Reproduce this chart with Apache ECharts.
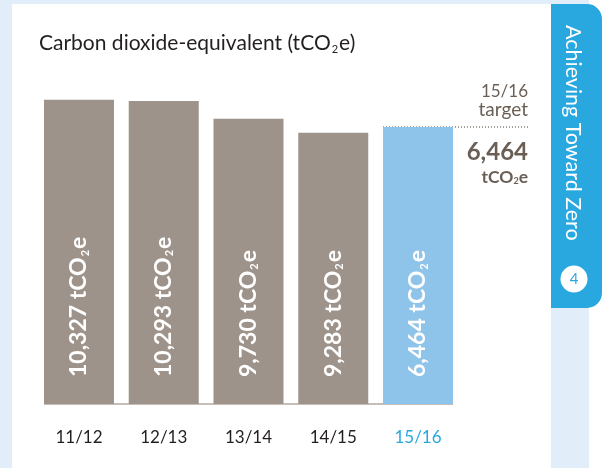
<!DOCTYPE html>
<html>
<head>
<meta charset="utf-8">
<script src="https://cdn.jsdelivr.net/npm/echarts@6/dist/echarts.min.js"></script>
<style>
  html, body { margin: 0; padding: 0; background: #ffffff; }
  #main { width: 603px; height: 468px; }
</style>
</head>
<body>
<div id="main"></div>
<script>
// 数据
var years = ['11/12', '12/13', '13/14', '14/15', '15/16'];
var emissions = [10327, 10293, 9730, 9283, 6464]; // 标签上的数值
// 柱子画出来的高度（原图并非按比例，目标柱顶对齐目标虚线）
var barHeights = [10327, 10293, 9730, 9283, 9465];
var targetYear = '15/16';
var targetValue = 6464;

var FONT = 'Lato';
var brown = '#6b5f55';
var tabBlue = '#29a8e0';

function fmt(n) {
    return n.toString().replace(/\B(?=(\d{3})+(?!\d))/g, ',');
}

var myChart = echarts.init(document.getElementById('main'));

var option = {
    animation: false,
    textStyle: { fontFamily: FONT },
    grid: {
        left: 36.6,
        right: 142.6,
        top: 47,
        bottom: 64
    },
    xAxis: {
        type: 'category',
        data: years,
        axisLine: { show: false },
        axisTick: { show: false },
        axisLabel: {
            margin: 25,
            fontSize: 17,
            fontFamily: FONT,
            color: function (v) {
                return v === targetYear ? tabBlue : '#231f20';
            }
        }
    },
    yAxis: {
        type: 'value',
        min: 700,
        max: 12000,
        show: false,
        splitLine: { show: false }
    },
    series: [{
        type: 'bar',
        barWidth: 70,
        silent: true,
        data: barHeights.map(function (h, i) {
            return {
                value: h,
                itemStyle: { color: years[i] === targetYear ? '#8ec4ea' : '#9d938a' }
            };
        }),
        label: {
            show: true,
            position: 'insideBottom',
            distance: 27,
            rotate: 90,
            align: 'left',
            verticalAlign: 'middle',
            offset: [0, 0],
            formatter: function (p) {
                return '{a|' + fmt(emissions[p.dataIndex]) + ' tCO}{s|2}{a|e}';
            },
            rich: {
                a: {
                    color: '#ffffff', fontSize: 23, fontWeight: 'bold',
                    fontFamily: FONT, lineHeight: 23, verticalAlign: 'top'
                },
                s: {
                    color: '#ffffff', fontSize: 11, fontWeight: 'bold',
                    fontFamily: FONT, lineHeight: 12, padding: [17, 1, 0, 1],
                    verticalAlign: 'bottom'
                }
            }
        }
    }]
};

myChart.setOption(option);

// 目标虚线的位置由坐标轴换算
var targetY = myChart.convertToPixel({ yAxisIndex: 0 }, barHeights[years.indexOf(targetYear)]);
var baseY = myChart.convertToPixel({ yAxisIndex: 0 }, 700);

myChart.setOption({
    graphic: [
        // 背景
        { type: 'rect', z: -10, silent: true, shape: { x: 0, y: 0, width: 603, height: 468 }, style: { fill: '#e1eef9' } },
        { type: 'rect', z: -9, silent: true, shape: { x: 12, y: 4, width: 539, height: 464 }, style: { fill: '#ffffff' } },
        { type: 'rect', z: -9, silent: true, shape: { x: 589, y: 0, width: 14, height: 468 }, style: { fill: '#ffffff' } },
        // 右侧标签页
        { type: 'rect', z: -8, silent: true, shape: { x: 551, y: 4, width: 51, height: 304, r: [0, 15, 15, 0] }, style: { fill: tabBlue } },
        {
            type: 'text', silent: true, x: 573, y: 25, rotation: -Math.PI / 2,
            style: { text: 'Achieving Toward Zero', fill: '#ffffff', fontSize: 21.5, fontFamily: FONT, align: 'left', verticalAlign: 'middle' }
        },
        { type: 'circle', silent: true, shape: { cx: 574, cy: 279, r: 13.5 }, style: { fill: '#ffffff' } },
        {
            type: 'text', silent: true, x: 574, y: 279,
            style: { text: '4', fill: tabBlue, fontSize: 15, fontFamily: FONT, align: 'center', verticalAlign: 'middle' }
        },
        // 标题
        {
            type: 'text', silent: true, x: 39, y: 44,
            style: {
                text: '{a|Carbon dioxide-equivalent (tCO}{s|2}{a|e)}',
                align: 'left', verticalAlign: 'middle',
                rich: {
                    a: { fontSize: 21, fill: '#231f20', fontFamily: FONT, lineHeight: 22, verticalAlign: 'top' },
                    s: { fontSize: 11, fill: '#231f20', fontFamily: FONT, lineHeight: 11, padding: [18, 1, 0, 1], verticalAlign: 'bottom' }
                }
            }
        },
        // 横轴线
        {
            type: 'line', silent: true,
            shape: { x1: 44, y1: baseY, x2: 453, y2: baseY },
            style: { stroke: '#b3aaa2', lineWidth: 1.5 }
        },
        // 目标
        {
            type: 'line', silent: true,
            shape: { x1: 383, y1: targetY, x2: 528, y2: targetY },
            style: { stroke: '#8a8178', lineWidth: 1.5, lineDash: [1, 2] }
        },
        {
            type: 'text', silent: true, x: 528, y: 92,
            style: { text: targetYear, fill: brown, fontSize: 17, fontFamily: FONT, align: 'right', verticalAlign: 'middle' }
        },
        {
            type: 'text', silent: true, x: 528, y: 110,
            style: { text: 'target', fill: brown, fontSize: 19, fontFamily: FONT, align: 'right', verticalAlign: 'middle' }
        },
        {
            type: 'text', silent: true, x: 528, y: 152,
            style: { text: fmt(targetValue), fill: brown, fontSize: 24, fontWeight: 'bold', fontFamily: FONT, align: 'right', verticalAlign: 'middle' }
        },
        {
            type: 'text', silent: true, x: 528, y: 177,
            style: {
                text: '{a|tCO}{s|2}{a|e}',
                align: 'right', verticalAlign: 'middle',
                rich: {
                    a: { fontSize: 17.5, fontWeight: 'bold', fill: brown, fontFamily: FONT, lineHeight: 17, verticalAlign: 'top' },
                    s: { fontSize: 9, fontWeight: 'bold', fill: brown, fontFamily: FONT, lineHeight: 9, padding: [13, 0, 0, 0], verticalAlign: 'bottom' }
                }
            }
        }
    ]
});
</script>
</body>
</html>
